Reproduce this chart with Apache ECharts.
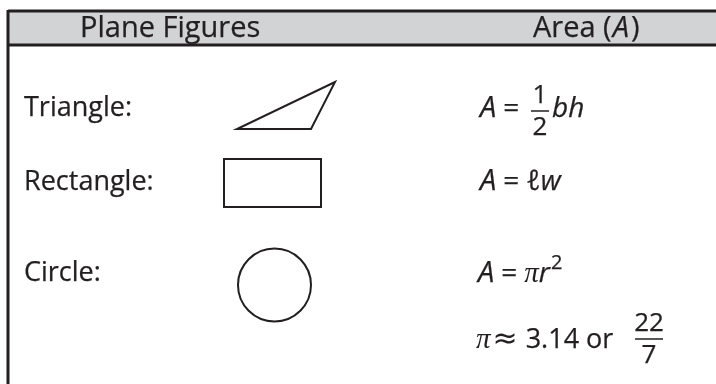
<!DOCTYPE html>
<html>
<head>
<meta charset="utf-8">
<script src="https://cdn.jsdelivr.net/npm/echarts@6/dist/echarts.min.js"></script>
<style>
  html, body { margin: 0; padding: 0; background: #fff; }
  #main { width: 716px; height: 384px; }
</style>
</head>
<body>
<div id="main"></div>
<script>
// 表头
var headerLabels = ['Plane Figures', 'Area (']
var headerSymbol = 'A'
// 图形名称
var figureNames = ['Triangle:', 'Rectangle:', 'Circle:']
// 面积公式
var formulaLines = [
  '{a|A}{e|=}',
  '{a|A}{e|=}{i|ℓw}',
  '{a|A}{e|=}{p|π}{i|r}',
  '{p|π}{ap|≈}{n|3.14 or}'
]
var fractions = [['1', '2'], ['22', '7']]
var superscripts = ['2']

var ink = '#231f20'
var font = '"Open Sans", "Noto Sans", sans-serif'
var sw = 0.25 // 文字加粗描边
var rich = {
  a: { fontFamily: font, fontStyle: 'italic', fontSize: 29, fill: ink, stroke: ink, lineWidth: sw, padding: [0, 3, 0, 0] },
  i: { fontFamily: font, fontStyle: 'italic', fontSize: 28, fill: ink, stroke: ink, lineWidth: sw },
  e: { fontFamily: font, fontSize: 28, fill: ink, padding: [0, 7, 0, 4], stroke: ink, lineWidth: sw },
  n: { fontFamily: font, fontSize: 27, fill: ink, stroke: ink, lineWidth: sw },
  ap: { fontFamily: '"DejaVu Sans", sans-serif', fontSize: 30, fill: ink, padding: [0, 8, 0, 2] },
  p: { fontFamily: '"Liberation Serif", serif', fontStyle: 'italic', fontSize: 29, fill: ink }
}

var myChart = echarts.init(document.getElementById('main'))

function txt (x, y, text, size, extra) {
  var style = Object.assign({
    text: text,
    x: x,
    y: y,
    fill: ink,
    stroke: ink,
    lineWidth: sw,
    font: size + 'px ' + font,
    align: 'left',
    verticalAlign: 'middle'
  }, extra || {})
  return { type: 'text', z: 10, style: style }
}

function fraction (cx, yBar, top, bottom, halfW) {
  return [
    txt(cx, yBar - 15, top, 26, { align: 'center' }),
    { type: 'line', shape: { x1: cx - halfW, y1: yBar, x2: cx + halfW, y2: yBar }, style: { stroke: ink, lineWidth: 1.5 } },
    txt(cx, yBar + 17, bottom, 26, { align: 'center' })
  ]
}

var rowsY = [108, 182, 273]
var elements = [
  // 表头背景
  { type: 'rect', shape: { x: 8, y: 11, width: 716, height: 34 }, style: { fill: '#d1d3d4' } },
  { type: 'line', shape: { x1: 8, y1: 11, x2: 716, y2: 11 }, style: { stroke: ink, lineWidth: 3 } },
  { type: 'line', shape: { x1: 8, y1: 45, x2: 716, y2: 45 }, style: { stroke: ink, lineWidth: 3 } },
  { type: 'line', shape: { x1: 8, y1: 10, x2: 8, y2: 384 }, style: { stroke: ink, lineWidth: 3 } },
  txt(80, 29, headerLabels[0], 29),
  { type: 'text', z: 10, style: {
    x: 533, y: 29, verticalAlign: 'middle', fill: ink, stroke: ink, lineWidth: sw, font: '29px ' + font,
    text: headerLabels[1] + '{i|' + headerSymbol + '}{n|)}',
    rich: {
      i: { fontFamily: font, fontStyle: 'italic', fontSize: 29, fill: ink, stroke: ink, lineWidth: sw, padding: [0, 2, 0, 1] },
      n: { fontFamily: font, fontSize: 29, fill: ink, stroke: ink, lineWidth: sw }
    }
  } },
  // 图形
  { type: 'polygon', shape: { points: [[237, 129], [311, 129], [335, 82]] }, style: { fill: 'none', stroke: ink, lineWidth: 2 } },
  { type: 'rect', shape: { x: 224, y: 159, width: 97, height: 48 }, style: { fill: 'none', stroke: ink, lineWidth: 2 } },
  { type: 'circle', shape: { cx: 274.5, cy: 285, r: 36.5 }, style: { fill: 'none', stroke: ink, lineWidth: 2 } }
]

figureNames.forEach(function (name, idx) {
  elements.push(txt(24, rowsY[idx], name, 27))
})

var formulaX = [480, 480, 478, 476]
var formulaY = [109, 182, 274, 340]
formulaLines.forEach(function (line, idx) {
  elements.push({ type: 'text', z: 10, style: {
    x: formulaX[idx], y: formulaY[idx], verticalAlign: 'middle', fill: ink, font: '27px ' + font, text: line, rich: rich
  } })
})

// 分数与上标
elements = elements.concat(fraction(540, 111, fractions[0][0], fractions[0][1], 9))
elements.push(txt(552, 109, '{i|bh}', 28, { rich: rich }))
elements.push(txt(551, 263, superscripts[0], 20))
elements = elements.concat(fraction(649, 339, fractions[1][0], fractions[1][1], 14))

var option = {
  backgroundColor: '#fff',
  animation: false,
  graphic: { elements: elements }
}
myChart.setOption(option)
window.addEventListener('resize', function () {
  myChart.resize()
})
</script>
</body>
</html>
